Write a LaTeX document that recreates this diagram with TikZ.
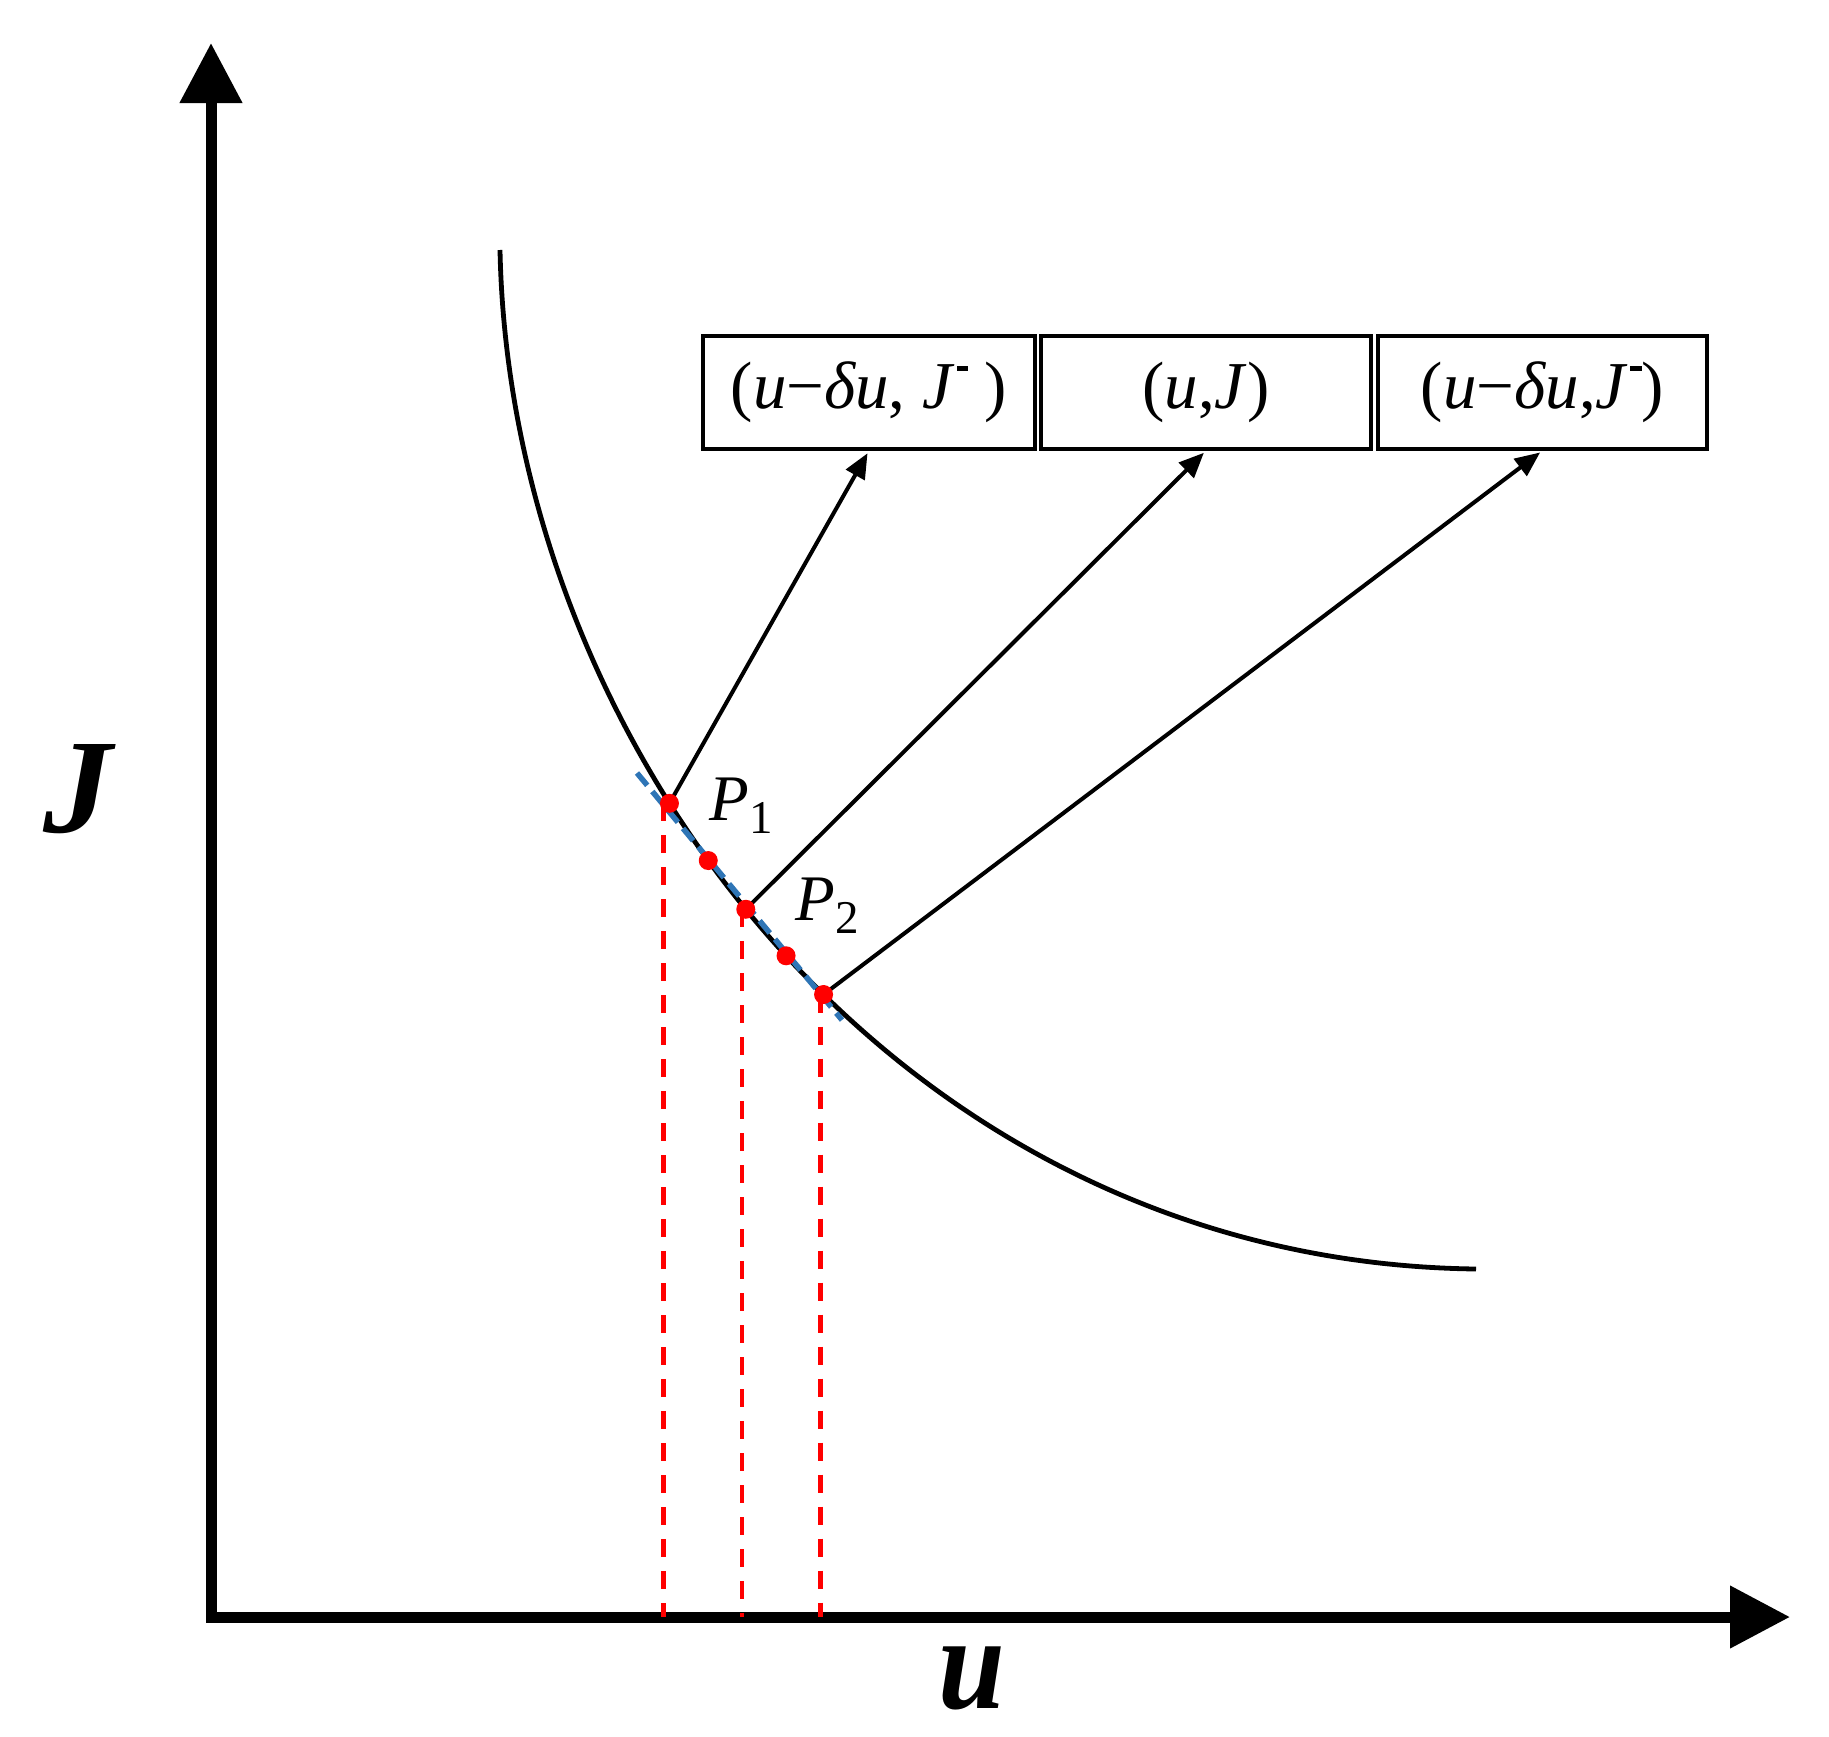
\documentclass[tikz,border=0pt]{standalone}
\usepackage{fontspec}
\setmainfont{Liberation Serif}
\usetikzlibrary{arrows.meta}
\definecolor{myblue}{RGB}{46,117,182}
\definecolor{myred}{RGB}{255,0,0}
\newcommand\Jdash{\textit{J}\kern0.03em\rule[0.56em]{0.17em}{0.075em}}
\begin{document}
\begin{tikzpicture}[x=1pt,y=-1pt,
  axis/.style={line width=11pt,{Triangle[length=60pt,width=60pt]}-{Triangle[length=60pt,width=60pt]}},
  curve/.style={line width=4.8pt},
  conn/.style={line width=4pt,-{Triangle[length=25pt,width=21pt]},shorten >=3pt},
  reddash/.style={draw=myred,line width=4.5pt,dash pattern=on 18pt off 14pt},
  bluedash/.style={draw=myblue,line width=5.5pt,dash pattern=on 16pt off 8pt},
  dot/.style={circle,fill=myred,minimum size=19pt,inner sep=0pt},
  box/.style={draw,line width=3.3pt,minimum height=113pt,inner sep=0pt,font=\fontsize{67}{70}\selectfont},
  lab/.style={inner sep=0pt,font=\fontsize{65}{68}\selectfont},
  axlab/.style={inner sep=0pt,font=\fontsize{120}{120}\selectfont\bfseries\itshape}]
\useasboundingbox (0,0) rectangle (1829,1737);
\fill[white] (0,0) rectangle (1829,1737);
% axes
\coordinate (O) at (211,1617);
\coordinate (ytip) at (211,43);
\coordinate (xtip) at (1790,1617);
\draw[axis,line join=miter] (ytip) -- (O) -- (xtip);
% curve with points on it
\draw[curve] (500,250) .. controls (510,750) and (900,1262) .. (1476,1269)
  coordinate[pos=0.385] (c1) coordinate[pos=0.43] (c2) coordinate[pos=0.47] (c3)
  coordinate[pos=0.51] (c4) coordinate[pos=0.545] (c5);
% red dashed verticals
\path ([xshift=-6pt]c1) coordinate (v1) ([xshift=-4pt]c3) coordinate (v3) ([xshift=-3pt]c5) coordinate (v5);
\draw[reddash] (v1) -- (v1 |- O);
\draw[reddash] (v3) -- (v3 |- O);
\draw[reddash] (v5) -- (v5 |- O);
% blue dashed line
\coordinate (t1) at (637,773);
\coordinate (t2) at (842,1020);
\draw[bluedash] (t1) -- (t2);
% boxes
\node[box,minimum width=332pt] (b1) at (869,392.5) {(\textit{u}−\textit{δu}, \Jdash\ )};
\node[box,minimum width=330pt] (b2) at (1206,392.5) {(\textit{u},\textit{J})};
\node[box,minimum width=329pt] (b3) at (1542.5,392.5) {(\textit{u}−\textit{δu},\Jdash)};
% connectors
\draw[conn] (c1) -- (b1.south);
\draw[conn] (c3) -- (b2.south);
\draw[conn] (c5) -- (b3.south);
% dots
\node[dot] (d1) at (c1) {};
\node[dot] (d2) at (c2) {};
\node[dot] (d3) at (c3) {};
\node[dot] (d4) at (c4) {};
\node[dot] (d5) at (c5) {};
% labels
\node[lab] (p1) at (741,806) {\textit{P}\raisebox{-0.2em}{\fontsize{47}{47}\selectfont 1}};
\node[lab] (p2) at (827,906) {\textit{P}\raisebox{-0.2em}{\fontsize{47}{47}\selectfont 2}};
\node[axlab] (jl) at (78,789) {\scalebox{1.15}[1.12]{J}};
\node[axlab] (ul) at (972,1678) {\scalebox{1}[1.12]{u}};
\end{tikzpicture}
\end{document}
